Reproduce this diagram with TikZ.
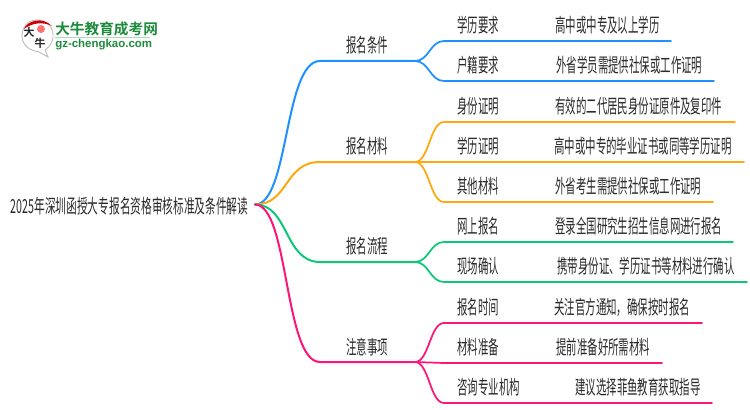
\documentclass[tikz,border=0pt]{standalone}
\usepackage{fontspec}
\setmainfont{Liberation Sans}
\newfontfamily\cjk[FakeStretch=0.54]{Noto Sans CJK SC}
\newfontfamily\cjkroot[FakeStretch=0.553]{Noto Sans CJK SC}
\newfontfamily\logocjk{Noto Sans CJK SC}[BoldFont=* Bold]
\definecolor{cblue}{HTML}{1E90FF}
\definecolor{corange}{HTML}{FFA80F}
\definecolor{cgreen}{HTML}{0CC878}
\definecolor{cpink}{HTML}{FF1478}
\definecolor{ctext}{HTML}{2A2A2A}
\definecolor{lgreen}{HTML}{1E8A3C}
\tikzset{
 lbl/.style={inner sep=0pt,anchor=west,text=ctext,font=\cjk\fontsize{14.5}{16}\selectfont},
 rootlbl/.style={inner sep=0pt,anchor=west,text=ctext,font=\cjkroot\fontsize{14.5}{16}\selectfont},
 mainlink/.style={line width=1.5pt,line cap=round},
 leaflink/.style={line width=1.3pt,line cap=round},
}
\newcommand{\branch}[3]{%
 \draw[mainlink,#1] (root) .. controls +(34,0) and ($(#2)+(-36,0)$) .. (#2) -- (#3);}
\newcommand{\leaf}[4]{%
 \draw[leaflink,#1] (#2) .. controls +(14,0) and ($(#3)+(-14,0)$) .. (#3) -- (#4);}
\usetikzlibrary{calc}
\begin{document}
\begin{tikzpicture}[x=0.75pt,y=-0.75pt]
\useasboundingbox (0,0) rectangle (750,410);
% logo
\node[inner sep=0pt,anchor=west,text=lgreen,font=\logocjk\bfseries\fontsize{11}{12}\selectfont] (logoA) at (55,29) {大牛教育成考网};
\node[inner sep=0pt,anchor=west,text=lgreen,font=\bfseries\fontsize{8.6}{10}\selectfont] (logoB) at (55,45) {gz-chengkao.com};
\draw[lgreen!35,line width=0.6pt] (logoA.south west)++(0,1.5) -- ++(95,0);
\path[draw=black!25,fill=white,line width=0.7pt] (37,20) .. controls (26,20) and (22,29) .. (22,36) .. controls (22,45) and (30,51) .. (38,51.5) -- (48,57) -- (45,50) .. controls (51,46) and (54,40) .. (53,33) .. controls (52,26) and (46,20) .. (37,20) -- cycle;
\fill[red!80!black] (24,29) .. controls (27,21) and (42,16) .. (52,26) .. controls (44,22) and (33,22) .. (24,29) -- cycle;
\fill[red!55] (41,29) circle (4);
\node[inner sep=0pt,text=black!85,font=\logocjk\bfseries\fontsize{8.2}{9}\selectfont] (logoC) at (29,32) {大};
\node[inner sep=0pt,text=black!85,font=\logocjk\bfseries\fontsize{8.2}{9}\selectfont] (logoD) at (40,43) {牛};
% root
\coordinate (root) at (255,204.5);
\node[rootlbl] (rootT) at (10.5,206) {2025年深圳函授大专报名资格审核标准及条件解读};
% level 1
\coordinate (a0) at (320,61);  \coordinate (a1) at (415,61);
\coordinate (b0) at (320,162); \coordinate (b1) at (415,162);
\coordinate (c0) at (320,262); \coordinate (c1) at (415,262);
\coordinate (d0) at (320,362); \coordinate (d1) at (415,362);
\branch{cblue}{a0}{a1}
\branch{corange}{b0}{b1}
\branch{cgreen}{c0}{c1}
\branch{cpink}{d0}{d1}
\node[lbl] (A) at (346,45) {报名条件};
\node[lbl] (B) at (346,146) {报名材料};
\node[lbl] (C) at (346,246) {报名流程};
\node[lbl] (D) at (346,347) {注意事项};
% leaves
\coordinate (p1) at (444,41);  \coordinate (q1) at (671,41);
\coordinate (p2) at (444,81);  \coordinate (q2) at (714,81);
\coordinate (p3) at (444,122); \coordinate (q3) at (735,122);
\coordinate (p4) at (444,162); \coordinate (q4) at (744,162);
\coordinate (p5) at (444,202); \coordinate (q5) at (713,202);
\coordinate (p6) at (444,242); \coordinate (q6) at (733,242);
\coordinate (p7) at (444,282); \coordinate (q7) at (747,282);
\coordinate (p8) at (444,323); \coordinate (q8) at (702,323);
\coordinate (p9) at (444,363); \coordinate (q9) at (662,363);
\coordinate (p10) at (444,403); \coordinate (q10) at (712,403);
\leaf{cblue}{a1}{p1}{q1}
\leaf{cblue}{a1}{p2}{q2}
\leaf{corange}{b1}{p3}{q3}
\leaf{corange}{b1}{p4}{q4}
\leaf{corange}{b1}{p5}{q5}
\leaf{cgreen}{c1}{p6}{q6}
\leaf{cgreen}{c1}{p7}{q7}
\leaf{cpink}{d1}{p8}{q8}
\leaf{cpink}{d1}{p9}{q9}
\leaf{cpink}{d1}{p10}{q10}
% labels
\node[lbl] (l1) at (457,25.5) {学历要求};
\node[lbl] (l2) at (457,65.5) {户籍要求};
\node[lbl] (l3) at (457,106) {身份证明};
\node[lbl] (l4) at (457,146) {学历证明};
\node[lbl] (l5) at (457,186) {其他材料};
\node[lbl] (l6) at (457,226) {网上报名};
\node[lbl] (l7) at (457,266) {现场确认};
\node[lbl] (l8) at (457,307) {报名时间};
\node[lbl] (l9) at (457,347) {材料准备};
\node[lbl] (l10) at (457,387) {咨询专业机构};
\node[lbl] (v1) at (555,25.5) {高中或中专及以上学历};
\node[lbl] (v2) at (556,65.5) {外省学员需提供社保或工作证明};
\node[lbl] (v3) at (555,106) {有效的二代居民身份证原件及复印件};
\node[lbl] (v4) at (554,146) {高中或中专的毕业证书或同等学历证明};
\node[lbl] (v5) at (555,186) {外省考生需提供社保或工作证明};
\node[lbl] (v6) at (555,226) {登录全国研究生招生信息网进行报名};
\node[lbl] (v7) at (557,266) {携带身份证、学历证书等材料进行确认};
\node[lbl] (v8) at (554,307) {关注官方通知，确保按时报名};
\node[lbl] (v9) at (556,347) {提前准备好所需材料};
\node[lbl] (v10) at (575,387) {建议选择菲鱼教育获取指导};
\end{tikzpicture}
\end{document}
